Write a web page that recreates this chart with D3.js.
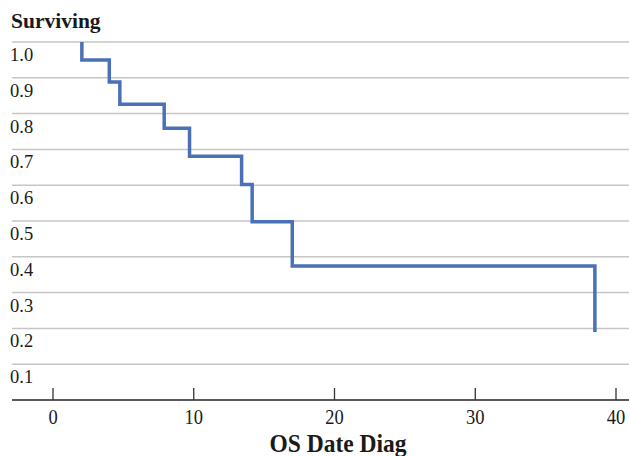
<!DOCTYPE html>
<html>
<head>
<meta charset="utf-8">
<script src="https://cdn.jsdelivr.net/npm/d3@7"></script>
<style>
  body { margin: 0; background: #fff; }
  text { font-family: "Liberation Serif", "DejaVu Serif", serif; fill: #1a1a1a; }
</style>
</head>
<body>
<svg id="chart" width="629" height="456"></svg>
<script>
// données : temps (OS Date Diag) et survie
var times = [2.05, 4.0, 4.75, 7.9, 9.7, 13.4, 14.15, 17.0, 38.5];
var surv  = [1.0, 0.95, 0.888, 0.826, 0.759, 0.681, 0.602, 0.498, 0.374];
var endSurv = 0.19;
var xTicks = [0, 10, 20, 30, 40];
var yTicks = [1.0, 0.9, 0.8, 0.7, 0.6, 0.5, 0.4, 0.3, 0.2, 0.1];

var svg = d3.select("#chart");

var x = d3.scaleLinear().domain([0, 40]).range([53, 616]);
var y = d3.scaleLinear().domain([0, 1]).range([400, 42]);

// titre axe y
svg.append("text")
   .attr("x", 11).attr("y", 28)
   .style("font-size", "21.5px").style("font-weight", "bold")
   .text("Surviving");

// lignes de grille + libellés (sous la ligne)
var grid = svg.append("g");
grid.selectAll("line").data(yTicks).enter().append("line")
    .attr("x1", 12).attr("x2", 629)
    .attr("y1", function(d) { return y(d); })
    .attr("y2", function(d) { return y(d); })
    .style("stroke", "#c6c6c6").style("stroke-width", 1.5);
grid.selectAll("text").data(yTicks).enter().append("text")
    .attr("x", 10)
    .attr("y", function(d) { return y(d) + 19; })
    .style("font-size", "18.5px")
    .text(function(d) { return d3.format(".1f")(d); });

// axe x
var xAxis = svg.append("g");
xAxis.append("line")
     .attr("x1", 12).attr("x2", 629).attr("y1", y(0)).attr("y2", y(0))
     .style("stroke", "#222").style("stroke-width", 1.5);
xAxis.selectAll("line.tick").data(xTicks).enter().append("line")
     .attr("class", "tick")
     .attr("x1", function(d) { return x(d); }).attr("x2", function(d) { return x(d); })
     .attr("y1", y(0) - 12).attr("y2", y(0))
     .style("stroke", "#333").style("stroke-width", 1.3);
xAxis.selectAll("text").data(xTicks).enter().append("text")
     .attr("transform", function(d) { return "translate(" + x(d) + ",424) scale(1,1.17)"; })
     .attr("text-anchor", "middle")
     .style("font-size", "18.5px")
     .text(function(d) { return d; });

svg.append("text")
   .attr("transform", "translate(338,452) scale(1,1.08)")
   .attr("text-anchor", "middle")
   .style("font-size", "23.5px").style("font-weight", "bold")
   .text("OS Date Diag");

// courbe de survie en escalier
var pts = [];
for (var i = 0; i < times.length; i++) {
  pts.push([times[i], surv[i]]);
}
pts.push([times[times.length - 1], endSurv]);

var line = d3.line()
  .x(function(d) { return x(d[0]); })
  .y(function(d) { return y(d[1]); })
  .curve(d3.curveStepBefore);

svg.append("path")
   .datum(pts)
   .attr("d", line)
   .style("fill", "none")
   .style("stroke", "#4a70b8")
   .style("stroke-width", 3.5);
</script>
</body>
</html>
